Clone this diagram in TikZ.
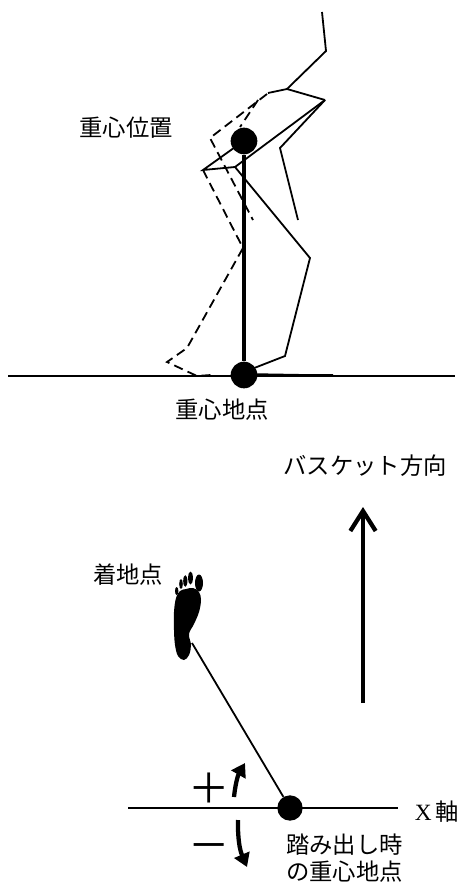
\documentclass[tikz,border=0pt]{standalone}
\usepackage{fontspec}
\setmainfont{Liberation Serif}
\newfontfamily\cjk{Noto Sans CJK JP}
\usetikzlibrary{positioning, arrows.meta}

\begin{document}
\begin{tikzpicture}[
  x=0.75pt, y=-0.75pt,
  limb/.style={line width=1.35pt, line join=miter},
  ghost/.style={limb, dash pattern=on 7pt off 4pt},
  ground/.style={line width=1.2pt},
  plumb/.style={line width=3pt},
  dot/.style={circle, fill=black, inner sep=0pt, minimum size=20pt},
  tag/.style={font=\cjk\fontsize{17.5pt}{20.3pt}\selectfont, inner sep=0pt},
  sign/.style={font=\cjk\fontsize{31pt}{31pt}\selectfont, inner sep=0pt},
  arrow/.style={-{Straight Barb[length=15pt, width=19pt]}, line width=3.2pt},
  turn/.style={-{Triangle[length=10pt, width=12pt]}, line width=3.2pt},
]
  \useasboundingbox (0,0) rectangle (462,888);

  % side view
  \coordinate (gl) at (8,376);
  \coordinate (gr) at (455,376);
  \draw[ground] (gl) -- (gr);

  \draw[ghost] (267,94) -- (210,138) -- (253,220);
  \draw[ghost] (258,100) -- (240,127);
  \draw[ghost] (203,170) -- (243,248) -- (187,348) -- (167,362) -- (197,376) -- (211,375);

  \draw[limb] (322,12) -- (326,51) -- (287,89) -- (268,93);
  \draw[limb] (287,89) -- (325,100);
  \draw[limb] (325,100) -- (280,148) -- (298,220);
  \draw[limb] (325,100) -- (235,167) -- (310,258) -- (285,356) -- (244,372);
  \draw[limb] (235,167) -- (203,170) -- (238,145);
  \draw[limb] (244,374) -- (305,375) -- (333,375);

  \node[dot] (com) at (244,141) {};
  \node[dot] (comground) at (244,375) {};
  \draw[plumb] (com) -- (comground);

  \node[tag] (comtxt) at (126,128) {重心位置};
  \node[tag] (groundtxt) at (222,410) {重心地点};

  % top view
  \node[tag] (goaltxt) at (365,466) {バスケット方向};
  \coordinate (goaltail) at (363,703);
  \coordinate (goaltip) at (363,507);
  \draw[arrow] (goaltail) -- (goaltip);

  \node[tag] (landtxt) at (128,575) {着地点};
  \fill plot[smooth cycle, tension=0.6] coordinates {
    (186,589) (193,588) (199,592) (201,600) (199,612) (194,624) (189,634)
    (191,645) (189,655) (184,660) (178,656) (175,645) (174,630) (174,612)
    (176,598) (180,591)};
  \foreach \x/\y/\rx/\ry in {199/583/4/8.5, 190.5/578/2.4/6.5, 185.3/581/2.1/5.8,
                             181/584/1.8/5, 176.7/591/1.7/4}
    \fill (\x,\y) ellipse [x radius=\rx, y radius=\ry];
  \coordinate (heel) at (192,643);

  \coordinate (xl) at (128,808);
  \coordinate (xr) at (398,808);
  \draw[ground] (xl) -- (xr);
  \node[dot, minimum size=19pt] (stepcom) at (290,808) {};
  \draw[limb] (heel) -- (stepcom);

  \node[font=\fontsize{17.5pt}{20pt}\selectfont, inner sep=0pt] (xtxt) at (437,812)
    {X\,{\cjk 軸}};
  \node[tag, anchor=north west, align=left] (steptxt) at (286,834)
    {踏み出し時\\の重心地点};

  \node[sign] (plus) at (209,788) {＋};
  \node[sign] (minus) at (209,852) {－};
  \coordinate (pa) at (234,797);
  \coordinate (pb) at (245,763);
  \coordinate (ma) at (238,820);
  \coordinate (mb) at (247,867);
  \draw[turn] (pa) to[bend left=12] (pb);
  \draw[turn] (ma) to[bend right=12] (mb);
\end{tikzpicture}
\end{document}
